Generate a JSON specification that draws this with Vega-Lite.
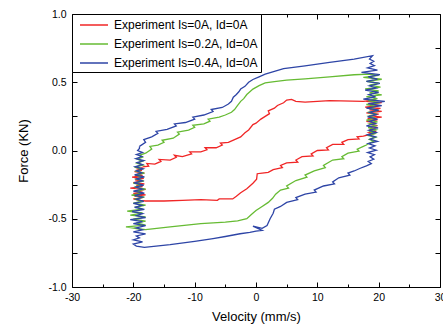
{
  "$schema": "https://vega.github.io/schema/vega-lite/v6.json",
  "width": 368,
  "height": 273,
  "autosize": {"type": "none"},
  "padding": {"left": 72, "top": 14, "right": 3, "bottom": 38},
  "background": "white",
  "config": {
    "view": {"stroke": "black", "strokeWidth": 1},
    "font": "Liberation Sans",
    "axis": {
      "grid": false,
      "domain": false,
      "tickColor": "black",
      "tickWidth": 1,
      "labelColor": "black",
      "labelFont": "Liberation Sans",
      "labelFontSize": 10.5,
      "titleFont": "Liberation Sans",
      "titleFontSize": 13,
      "titleFontWeight": "normal",
      "titleColor": "black",
      "labelOverlap": false,
      "labelFlush": false
    },
    "legend": {
      "strokeColor": "black",
      "strokeWidth": 1,
      "fillColor": "white",
      "padding": 3,
      "cornerRadius": 0,
      "labelFont": "Liberation Sans",
      "labelFontSize": 12,
      "labelColor": "black",
      "symbolType": "M-2,0H2",
      "symbolSize": 196,
      "symbolStrokeWidth": 1.5,
      "symbolOffset": 11,
      "rowPadding": 5,
      "labelOffset": 12
    }
  },
  "data": {
    "values": [
      {"s":"0A","i":1,"v":-18.5,"f":-0.12},{"s":"0A","i":2,"v":-17.5,"f":-0.115},{"s":"0A","i":3,"v":-17.8,"f":-0.095},{"s":"0A","i":4,"v":-16.5,"f":-0.1},{"s":"0A","i":5,"v":-15.5,"f":-0.08},{"s":"0A","i":6,"v":-15.8,"f":-0.065},{"s":"0A","i":7,"v":-14,"f":-0.07},{"s":"0A","i":8,"v":-13,"f":-0.05},{"s":"0A","i":9,"v":-13.3,"f":-0.035},{"s":"0A","i":10,"v":-12,"f":-0.045},
      {"s":"0A","i":11,"v":-10.5,"f":-0.025},{"s":"0A","i":12,"v":-10.8,"f":-0.01},{"s":"0A","i":13,"v":-9,"f":-0.01},{"s":"0A","i":14,"v":-8,"f":0.005},{"s":"0A","i":15,"v":-8.3,"f":0.02},{"s":"0A","i":16,"v":-6.5,"f":0.02},{"s":"0A","i":17,"v":-5.5,"f":0.04},{"s":"0A","i":18,"v":-5.8,"f":0.055},{"s":"0A","i":19,"v":-4.5,"f":0.06},{"s":"0A","i":20,"v":-3.5,"f":0.08},
      {"s":"0A","i":21,"v":-2.5,"f":0.1},{"s":"0A","i":22,"v":-1.8,"f":0.13},{"s":"0A","i":23,"v":-1.2,"f":0.15},{"s":"0A","i":24,"v":-0.5,"f":0.19},{"s":"0A","i":25,"v":0,"f":0.2},{"s":"0A","i":26,"v":0.8,"f":0.23},{"s":"0A","i":27,"v":1.5,"f":0.25},{"s":"0A","i":28,"v":2.2,"f":0.27},{"s":"0A","i":29,"v":2.0,"f":0.29},{"s":"0A","i":30,"v":3,"f":0.31},
      {"s":"0A","i":31,"v":3.5,"f":0.33},{"s":"0A","i":32,"v":4.5,"f":0.35},{"s":"0A","i":33,"v":5,"f":0.37},{"s":"0A","i":34,"v":5.8,"f":0.375},{"s":"0A","i":35,"v":6.5,"f":0.36},{"s":"0A","i":36,"v":8,"f":0.355},{"s":"0A","i":37,"v":12,"f":0.365},{"s":"0A","i":38,"v":17.5,"f":0.36},
      {"s":"0A","i":39,"v":19.5,"f":0.37},{"s":"0A","i":39.5,"v":18,"f":0.36},{"s":"0A","i":40,"v":20.5,"f":0.35},{"s":"0A","i":40.5,"v":18.5,"f":0.34},{"s":"0A","i":41,"v":20,"f":0.328},{"s":"0A","i":41.5,"v":17.8,"f":0.318},{"s":"0A","i":42,"v":20.3,"f":0.308},{"s":"0A","i":42.5,"v":18.5,"f":0.297},{"s":"0A","i":43,"v":20.5,"f":0.287},{"s":"0A","i":43.5,"v":18,"f":0.276},
      {"s":"0A","i":44,"v":20,"f":0.266},{"s":"0A","i":44.5,"v":18.5,"f":0.255},{"s":"0A","i":45,"v":20.5,"f":0.245},{"s":"0A","i":45.5,"v":18.2,"f":0.234},{"s":"0A","i":46,"v":19.8,"f":0.224},{"s":"0A","i":46.5,"v":18,"f":0.214},{"s":"0A","i":47,"v":19.5,"f":0.203},{"s":"0A","i":47.5,"v":18.5,"f":0.193},{"s":"0A","i":48,"v":19.8,"f":0.182},{"s":"0A","i":48.5,"v":18.3,"f":0.172},
      {"s":"0A","i":49,"v":19.5,"f":0.161},{"s":"0A","i":49.5,"v":18.5,"f":0.151},{"s":"0A","i":50,"v":19.6,"f":0.14},{"s":"0A","i":50.5,"v":18.4,"f":0.13},{"s":"0A","i":51,"v":19,"f":0.12},{"s":"0A","i":51.5,"v":18,"f":0.11},
      {"s":"0A","i":55,"v":17.5,"f":0.105},{"s":"0A","i":56,"v":16.5,"f":0.1},{"s":"0A","i":57,"v":16.8,"f":0.085},{"s":"0A","i":58,"v":15,"f":0.08},{"s":"0A","i":59,"v":14,"f":0.06},{"s":"0A","i":60,"v":14.3,"f":0.045},{"s":"0A","i":61,"v":12.5,"f":0.045},{"s":"0A","i":62,"v":11.5,"f":0.02},{"s":"0A","i":63,"v":11.8,"f":0.005},{"s":"0A","i":64,"v":10,"f":0.0},
      {"s":"0A","i":65,"v":9,"f":-0.025},{"s":"0A","i":66,"v":9.3,"f":-0.04},{"s":"0A","i":67,"v":7.5,"f":-0.045},{"s":"0A","i":68,"v":6.5,"f":-0.07},{"s":"0A","i":69,"v":6.8,"f":-0.085},{"s":"0A","i":70,"v":5,"f":-0.09},{"s":"0A","i":71,"v":4,"f":-0.11},{"s":"0A","i":72,"v":4.3,"f":-0.125},{"s":"0A","i":73,"v":2.8,"f":-0.14},{"s":"0A","i":74,"v":2,"f":-0.16},
      {"s":"0A","i":75,"v":1,"f":-0.165},{"s":"0A","i":76,"v":0.2,"f":-0.17},{"s":"0A","i":77,"v":0.1,"f":-0.21},{"s":"0A","i":78,"v":-0.5,"f":-0.24},{"s":"0A","i":79,"v":-1.5,"f":-0.28},{"s":"0A","i":80,"v":-2.5,"f":-0.31},{"s":"0A","i":81,"v":-3.2,"f":-0.335},{"s":"0A","i":82,"v":-3.8,"f":-0.355},{"s":"0A","i":83,"v":-6,"f":-0.355},{"s":"0A","i":84,"v":-6.3,"f":-0.365},
      {"s":"0A","i":85,"v":-9,"f":-0.36},{"s":"0A","i":86,"v":-12,"f":-0.365},{"s":"0A","i":87,"v":-15,"f":-0.37},{"s":"0A","i":88,"v":-18,"f":-0.37},
      {"s":"0A","i":89,"v":-19,"f":-0.365},{"s":"0A","i":89.5,"v":-20,"f":-0.355},{"s":"0A","i":90,"v":-18.5,"f":-0.345},{"s":"0A","i":90.5,"v":-19.8,"f":-0.335},{"s":"0A","i":91,"v":-18,"f":-0.325},{"s":"0A","i":91.5,"v":-20,"f":-0.315},{"s":"0A","i":92,"v":-18.5,"f":-0.305},{"s":"0A","i":92.5,"v":-19.5,"f":-0.295},{"s":"0A","i":93,"v":-18,"f":-0.285},{"s":"0A","i":93.5,"v":-20.5,"f":-0.275},
      {"s":"0A","i":94,"v":-18.5,"f":-0.265},{"s":"0A","i":94.5,"v":-19.5,"f":-0.255},{"s":"0A","i":95,"v":-18.2,"f":-0.245},{"s":"0A","i":95.5,"v":-20,"f":-0.235},{"s":"0A","i":96,"v":-18.6,"f":-0.225},{"s":"0A","i":96.5,"v":-19.7,"f":-0.215},{"s":"0A","i":97,"v":-18.3,"f":-0.205},{"s":"0A","i":97.5,"v":-20.2,"f":-0.195},{"s":"0A","i":98,"v":-18.5,"f":-0.185},{"s":"0A","i":98.5,"v":-19.4,"f":-0.175},
      {"s":"0A","i":99,"v":-18.2,"f":-0.165},{"s":"0A","i":99.5,"v":-19.8,"f":-0.155},{"s":"0A","i":100,"v":-18.6,"f":-0.145},{"s":"0A","i":100.5,"v":-19.3,"f":-0.135},{"s":"0A","i":101,"v":-18.5,"f":-0.125},

      {"s":"0.2A","i":1,"v":-18,"f":-0.02},{"s":"0.2A","i":2,"v":-17,"f":0.01},{"s":"0.2A","i":3,"v":-17.3,"f":0.03},{"s":"0.2A","i":4,"v":-16,"f":0.04},{"s":"0.2A","i":5,"v":-15,"f":0.06},{"s":"0.2A","i":6,"v":-15.3,"f":0.075},{"s":"0.2A","i":7,"v":-13.5,"f":0.09},{"s":"0.2A","i":8,"v":-12.5,"f":0.12},{"s":"0.2A","i":9,"v":-12.8,"f":0.135},{"s":"0.2A","i":10,"v":-11,"f":0.15},
      {"s":"0.2A","i":11,"v":-10,"f":0.17},{"s":"0.2A","i":12,"v":-10.3,"f":0.185},{"s":"0.2A","i":13,"v":-8.5,"f":0.195},{"s":"0.2A","i":14,"v":-7.5,"f":0.215},{"s":"0.2A","i":15,"v":-7.8,"f":0.23},{"s":"0.2A","i":16,"v":-6,"f":0.245},{"s":"0.2A","i":17,"v":-5,"f":0.26},{"s":"0.2A","i":18,"v":-4,"f":0.28},{"s":"0.2A","i":19,"v":-3.5,"f":0.3},{"s":"0.2A","i":20,"v":-3,"f":0.33},
      {"s":"0.2A","i":21,"v":-2.5,"f":0.36},{"s":"0.2A","i":22,"v":-2,"f":0.38},{"s":"0.2A","i":23,"v":-1.5,"f":0.41},{"s":"0.2A","i":24,"v":-1,"f":0.43},{"s":"0.2A","i":25,"v":-0.5,"f":0.45},{"s":"0.2A","i":26,"v":0.5,"f":0.475},{"s":"0.2A","i":27,"v":1.5,"f":0.495},{"s":"0.2A","i":28,"v":3,"f":0.505},{"s":"0.2A","i":29,"v":5,"f":0.515},{"s":"0.2A","i":30,"v":8,"f":0.525},
      {"s":"0.2A","i":31,"v":12,"f":0.54},{"s":"0.2A","i":32,"v":16,"f":0.555},{"s":"0.2A","i":33,"v":18.5,"f":0.56},
      {"s":"0.2A","i":34,"v":20,"f":0.55},{"s":"0.2A","i":34.5,"v":17.5,"f":0.536},{"s":"0.2A","i":35,"v":20.5,"f":0.522},{"s":"0.2A","i":35.5,"v":18,"f":0.507},{"s":"0.2A","i":36,"v":20,"f":0.493},{"s":"0.2A","i":36.5,"v":18.5,"f":0.479},{"s":"0.2A","i":37,"v":20.3,"f":0.465},{"s":"0.2A","i":37.5,"v":17.8,"f":0.451},{"s":"0.2A","i":38,"v":20,"f":0.436},{"s":"0.2A","i":38.5,"v":18.5,"f":0.422},
      {"s":"0.2A","i":39,"v":20.5,"f":0.408},{"s":"0.2A","i":39.5,"v":18,"f":0.394},{"s":"0.2A","i":40,"v":19.8,"f":0.38},{"s":"0.2A","i":40.5,"v":18.3,"f":0.365},{"s":"0.2A","i":41,"v":20.2,"f":0.351},{"s":"0.2A","i":41.5,"v":18,"f":0.337},{"s":"0.2A","i":42,"v":19.6,"f":0.323},{"s":"0.2A","i":42.5,"v":18.5,"f":0.309},{"s":"0.2A","i":43,"v":20,"f":0.294},{"s":"0.2A","i":43.5,"v":18.2,"f":0.28},
      {"s":"0.2A","i":44,"v":19.7,"f":0.266},{"s":"0.2A","i":44.5,"v":18.4,"f":0.252},{"s":"0.2A","i":45,"v":19.5,"f":0.238},{"s":"0.2A","i":45.5,"v":18,"f":0.223},{"s":"0.2A","i":46,"v":19.8,"f":0.209},{"s":"0.2A","i":46.5,"v":18.5,"f":0.195},{"s":"0.2A","i":47,"v":19.5,"f":0.181},{"s":"0.2A","i":47.5,"v":18.3,"f":0.167},{"s":"0.2A","i":48,"v":19.6,"f":0.152},{"s":"0.2A","i":48.5,"v":18.6,"f":0.138},
      {"s":"0.2A","i":49,"v":19.4,"f":0.124},{"s":"0.2A","i":49.5,"v":18.2,"f":0.11},{"s":"0.2A","i":50,"v":19.5,"f":0.096},{"s":"0.2A","i":50.5,"v":18.5,"f":0.081},{"s":"0.2A","i":51,"v":19.2,"f":0.067},{"s":"0.2A","i":51.5,"v":18.4,"f":0.053},{"s":"0.2A","i":52,"v":18,"f":0.04},
      {"s":"0.2A","i":53,"v":17.5,"f":0.03},{"s":"0.2A","i":54,"v":16.5,"f":0.01},{"s":"0.2A","i":55,"v":16.8,"f":-0.005},{"s":"0.2A","i":56,"v":15,"f":-0.02},{"s":"0.2A","i":57,"v":14,"f":-0.045},{"s":"0.2A","i":58,"v":14.3,"f":-0.06},{"s":"0.2A","i":59,"v":12.5,"f":-0.07},{"s":"0.2A","i":60,"v":11,"f":-0.11},{"s":"0.2A","i":61,"v":11.3,"f":-0.125},{"s":"0.2A","i":62,"v":9.5,"f":-0.15},
      {"s":"0.2A","i":63,"v":8,"f":-0.18},{"s":"0.2A","i":64,"v":8.3,"f":-0.195},{"s":"0.2A","i":65,"v":6.5,"f":-0.22},{"s":"0.2A","i":66,"v":5,"f":-0.26},{"s":"0.2A","i":67,"v":5.3,"f":-0.275},{"s":"0.2A","i":68,"v":4,"f":-0.29},{"s":"0.2A","i":69,"v":3.2,"f":-0.32},{"s":"0.2A","i":70,"v":2.7,"f":-0.35},{"s":"0.2A","i":71,"v":2,"f":-0.38},{"s":"0.2A","i":72,"v":1,"f":-0.41},
      {"s":"0.2A","i":73,"v":0,"f":-0.44},{"s":"0.2A","i":74,"v":-0.8,"f":-0.47},{"s":"0.2A","i":75,"v":-1.5,"f":-0.5},{"s":"0.2A","i":76,"v":-3,"f":-0.515},{"s":"0.2A","i":77,"v":-5,"f":-0.525},{"s":"0.2A","i":78,"v":-9,"f":-0.535},{"s":"0.2A","i":79,"v":-14,"f":-0.56},{"s":"0.2A","i":80,"v":-18,"f":-0.58},
      {"s":"0.2A","i":81,"v":-19,"f":-0.575},{"s":"0.2A","i":81.5,"v":-21.2,"f":-0.56},{"s":"0.2A","i":82,"v":-18,"f":-0.546},{"s":"0.2A","i":82.5,"v":-19.5,"f":-0.531},{"s":"0.2A","i":83,"v":-18,"f":-0.517},{"s":"0.2A","i":83.5,"v":-20,"f":-0.502},{"s":"0.2A","i":84,"v":-18,"f":-0.487},{"s":"0.2A","i":84.5,"v":-20.5,"f":-0.473},{"s":"0.2A","i":85,"v":-18.5,"f":-0.458},{"s":"0.2A","i":85.5,"v":-21,"f":-0.444},
      {"s":"0.2A","i":86,"v":-18.5,"f":-0.429},{"s":"0.2A","i":86.5,"v":-19.5,"f":-0.414},{"s":"0.2A","i":87,"v":-18,"f":-0.4},{"s":"0.2A","i":87.5,"v":-20,"f":-0.385},{"s":"0.2A","i":88,"v":-18.5,"f":-0.371},{"s":"0.2A","i":88.5,"v":-19.8,"f":-0.356},{"s":"0.2A","i":89,"v":-18.2,"f":-0.341},{"s":"0.2A","i":89.5,"v":-20.3,"f":-0.327},{"s":"0.2A","i":90,"v":-18.5,"f":-0.312},{"s":"0.2A","i":90.5,"v":-19.5,"f":-0.298},
      {"s":"0.2A","i":91,"v":-18,"f":-0.283},{"s":"0.2A","i":91.5,"v":-19.8,"f":-0.268},{"s":"0.2A","i":92,"v":-18.6,"f":-0.254},{"s":"0.2A","i":92.5,"v":-20,"f":-0.239},{"s":"0.2A","i":93,"v":-18.3,"f":-0.225},{"s":"0.2A","i":93.5,"v":-19.5,"f":-0.21},{"s":"0.2A","i":94,"v":-18.5,"f":-0.195},{"s":"0.2A","i":94.5,"v":-19.7,"f":-0.181},{"s":"0.2A","i":95,"v":-18.2,"f":-0.166},{"s":"0.2A","i":95.5,"v":-19.5,"f":-0.152},
      {"s":"0.2A","i":96,"v":-18.6,"f":-0.137},{"s":"0.2A","i":96.5,"v":-19.8,"f":-0.122},{"s":"0.2A","i":97,"v":-18.4,"f":-0.108},{"s":"0.2A","i":97.5,"v":-19.4,"f":-0.093},{"s":"0.2A","i":98,"v":-18.5,"f":-0.079},{"s":"0.2A","i":98.5,"v":-19.3,"f":-0.064},{"s":"0.2A","i":99,"v":-18.5,"f":-0.049},{"s":"0.2A","i":99.5,"v":-19,"f":-0.035},{"s":"0.2A","i":100,"v":-18,"f":-0.02},

      {"s":"0.4A","i":1,"v":-19,"f":0.03},{"s":"0.4A","i":2,"v":-18,"f":0.06},{"s":"0.4A","i":3,"v":-18.3,"f":0.08},{"s":"0.4A","i":4,"v":-17,"f":0.1},{"s":"0.4A","i":5,"v":-16,"f":0.125},{"s":"0.4A","i":6,"v":-16.3,"f":0.14},{"s":"0.4A","i":7,"v":-14.5,"f":0.155},{"s":"0.4A","i":8,"v":-13,"f":0.18},{"s":"0.4A","i":9,"v":-13.3,"f":0.195},{"s":"0.4A","i":10,"v":-11.5,"f":0.205},
      {"s":"0.4A","i":11,"v":-10,"f":0.23},{"s":"0.4A","i":12,"v":-10.3,"f":0.245},{"s":"0.4A","i":13,"v":-8.5,"f":0.26},{"s":"0.4A","i":14,"v":-7,"f":0.285},{"s":"0.4A","i":15,"v":-7.3,"f":0.3},{"s":"0.4A","i":16,"v":-5.5,"f":0.315},{"s":"0.4A","i":17,"v":-4.5,"f":0.34},{"s":"0.4A","i":18,"v":-4,"f":0.36},{"s":"0.4A","i":19,"v":-3.7,"f":0.39},{"s":"0.4A","i":20,"v":-3.2,"f":0.41},
      {"s":"0.4A","i":21,"v":-2.8,"f":0.43},{"s":"0.4A","i":22,"v":-2.5,"f":0.45},{"s":"0.4A","i":23,"v":-1.8,"f":0.47},{"s":"0.4A","i":24,"v":-1.2,"f":0.5},{"s":"0.4A","i":25,"v":-0.5,"f":0.52},{"s":"0.4A","i":26,"v":0.5,"f":0.54},{"s":"0.4A","i":27,"v":1.5,"f":0.56},{"s":"0.4A","i":28,"v":3,"f":0.58},{"s":"0.4A","i":29,"v":4.5,"f":0.6},{"s":"0.4A","i":30,"v":8,"f":0.62},
      {"s":"0.4A","i":31,"v":12,"f":0.645},{"s":"0.4A","i":32,"v":16,"f":0.67},{"s":"0.4A","i":33,"v":19,"f":0.695},
      {"s":"0.4A","i":34,"v":18.5,"f":0.67},{"s":"0.4A","i":34.5,"v":19.2,"f":0.654},{"s":"0.4A","i":35,"v":18.6,"f":0.637},{"s":"0.4A","i":35.5,"v":19.3,"f":0.621},{"s":"0.4A","i":36,"v":18.2,"f":0.605},{"s":"0.4A","i":36.5,"v":19.8,"f":0.589},{"s":"0.4A","i":37,"v":17.2,"f":0.572},{"s":"0.4A","i":37.5,"v":20.2,"f":0.556},{"s":"0.4A","i":38,"v":18.3,"f":0.54},{"s":"0.4A","i":38.5,"v":19.8,"f":0.523},
      {"s":"0.4A","i":39,"v":18,"f":0.507},{"s":"0.4A","i":39.5,"v":20.2,"f":0.491},{"s":"0.4A","i":40,"v":18.5,"f":0.474},{"s":"0.4A","i":40.5,"v":19.6,"f":0.458},{"s":"0.4A","i":41,"v":17.8,"f":0.442},{"s":"0.4A","i":41.5,"v":20,"f":0.426},{"s":"0.4A","i":42,"v":18.4,"f":0.409},{"s":"0.4A","i":42.5,"v":19.5,"f":0.393},{"s":"0.4A","i":43,"v":17.5,"f":0.377},{"s":"0.4A","i":43.5,"v":21,"f":0.36},
      {"s":"0.4A","i":44,"v":18.3,"f":0.344},{"s":"0.4A","i":44.5,"v":20.5,"f":0.328},{"s":"0.4A","i":45,"v":18,"f":0.311},{"s":"0.4A","i":45.5,"v":20,"f":0.295},{"s":"0.4A","i":46,"v":18.5,"f":0.279},{"s":"0.4A","i":46.5,"v":19.6,"f":0.263},{"s":"0.4A","i":47,"v":18.2,"f":0.246},{"s":"0.4A","i":47.5,"v":19.8,"f":0.23},{"s":"0.4A","i":48,"v":18.5,"f":0.214},{"s":"0.4A","i":48.5,"v":19.5,"f":0.197},
      {"s":"0.4A","i":49,"v":18,"f":0.181},{"s":"0.4A","i":49.5,"v":19.9,"f":0.165},{"s":"0.4A","i":50,"v":18.4,"f":0.148},{"s":"0.4A","i":50.5,"v":19.6,"f":0.132},{"s":"0.4A","i":51,"v":18.2,"f":0.116},{"s":"0.4A","i":51.5,"v":19.5,"f":0.1},{"s":"0.4A","i":52,"v":18.6,"f":0.083},{"s":"0.4A","i":52.5,"v":19.8,"f":0.067},{"s":"0.4A","i":53,"v":18.3,"f":0.051},{"s":"0.4A","i":53.5,"v":19.4,"f":0.034},
      {"s":"0.4A","i":54,"v":18.5,"f":0.018},{"s":"0.4A","i":54.5,"v":19.6,"f":0.002},{"s":"0.4A","i":55,"v":18.2,"f":-0.015},{"s":"0.4A","i":55.5,"v":19.3,"f":-0.031},{"s":"0.4A","i":56,"v":18.6,"f":-0.047},{"s":"0.4A","i":56.5,"v":19.2,"f":-0.064},{"s":"0.4A","i":57,"v":18.3,"f":-0.08},{"s":"0.4A","i":57.5,"v":18.8,"f":-0.096},{"s":"0.4A","i":58,"v":18,"f":-0.112},{"s":"0.4A","i":58.5,"v":17,"f":-0.13},
      {"s":"0.4A","i":64,"v":16,"f":-0.15},{"s":"0.4A","i":65,"v":15,"f":-0.165},{"s":"0.4A","i":66,"v":15.3,"f":-0.18},{"s":"0.4A","i":67,"v":13.5,"f":-0.2},{"s":"0.4A","i":68,"v":12.5,"f":-0.23},{"s":"0.4A","i":69,"v":12.8,"f":-0.245},{"s":"0.4A","i":70,"v":11,"f":-0.26},{"s":"0.4A","i":71,"v":9.5,"f":-0.29},{"s":"0.4A","i":72,"v":9.8,"f":-0.305},{"s":"0.4A","i":73,"v":8,"f":-0.32},
      {"s":"0.4A","i":74,"v":6.5,"f":-0.345},{"s":"0.4A","i":75,"v":6.8,"f":-0.36},{"s":"0.4A","i":76,"v":5,"f":-0.38},{"s":"0.4A","i":77,"v":4,"f":-0.41},{"s":"0.4A","i":78,"v":3,"f":-0.43},{"s":"0.4A","i":79,"v":2.8,"f":-0.46},{"s":"0.4A","i":80,"v":2.3,"f":-0.5},{"s":"0.4A","i":81,"v":1.8,"f":-0.55},{"s":"0.4A","i":82,"v":1,"f":-0.57},{"s":"0.4A","i":83,"v":-0.5,"f":-0.555},
      {"s":"0.4A","i":84,"v":1,"f":-0.585},{"s":"0.4A","i":85,"v":0,"f":-0.59},{"s":"0.4A","i":86,"v":-1,"f":-0.6},{"s":"0.4A","i":87,"v":-2.6,"f":-0.61},{"s":"0.4A","i":88,"v":-5,"f":-0.63},{"s":"0.4A","i":89,"v":-7,"f":-0.645},{"s":"0.4A","i":90,"v":-10,"f":-0.665},{"s":"0.4A","i":91,"v":-14,"f":-0.69},{"s":"0.4A","i":92,"v":-18.2,"f":-0.71},
      {"s":"0.4A","i":93,"v":-19.5,"f":-0.7},{"s":"0.4A","i":93.5,"v":-20,"f":-0.685},{"s":"0.4A","i":94,"v":-18.5,"f":-0.67},{"s":"0.4A","i":94.5,"v":-20,"f":-0.655},{"s":"0.4A","i":95,"v":-19,"f":-0.64},{"s":"0.4A","i":95.5,"v":-19.5,"f":-0.626},{"s":"0.4A","i":96,"v":-18,"f":-0.611},{"s":"0.4A","i":96.5,"v":-20,"f":-0.596},{"s":"0.4A","i":97,"v":-18.5,"f":-0.581},{"s":"0.4A","i":97.5,"v":-19.5,"f":-0.566},
      {"s":"0.4A","i":98,"v":-18,"f":-0.551},{"s":"0.4A","i":98.5,"v":-20,"f":-0.536},{"s":"0.4A","i":99,"v":-18.5,"f":-0.521},{"s":"0.4A","i":99.5,"v":-20.5,"f":-0.506},{"s":"0.4A","i":100,"v":-18,"f":-0.491},{"s":"0.4A","i":100.5,"v":-19.5,"f":-0.477},{"s":"0.4A","i":101,"v":-18.5,"f":-0.462},{"s":"0.4A","i":101.5,"v":-20.2,"f":-0.447},{"s":"0.4A","i":102,"v":-18.2,"f":-0.432},{"s":"0.4A","i":102.5,"v":-19.8,"f":-0.417},
      {"s":"0.4A","i":103,"v":-18.6,"f":-0.402},{"s":"0.4A","i":103.5,"v":-20,"f":-0.387},{"s":"0.4A","i":104,"v":-18.3,"f":-0.372},{"s":"0.4A","i":104.5,"v":-19.5,"f":-0.357},{"s":"0.4A","i":105,"v":-18.5,"f":-0.342},{"s":"0.4A","i":105.5,"v":-19.8,"f":-0.328},{"s":"0.4A","i":106,"v":-18.2,"f":-0.313},{"s":"0.4A","i":106.5,"v":-20,"f":-0.298},{"s":"0.4A","i":107,"v":-18.5,"f":-0.283},{"s":"0.4A","i":107.5,"v":-19.6,"f":-0.268},
      {"s":"0.4A","i":108,"v":-18.3,"f":-0.253},{"s":"0.4A","i":108.5,"v":-19.9,"f":-0.238},{"s":"0.4A","i":109,"v":-18.5,"f":-0.223},{"s":"0.4A","i":109.5,"v":-19.5,"f":-0.208},{"s":"0.4A","i":110,"v":-18.2,"f":-0.193},{"s":"0.4A","i":110.5,"v":-19.8,"f":-0.179},{"s":"0.4A","i":111,"v":-18.6,"f":-0.164},{"s":"0.4A","i":111.5,"v":-19.5,"f":-0.149},{"s":"0.4A","i":112,"v":-18.4,"f":-0.134},{"s":"0.4A","i":112.5,"v":-19.7,"f":-0.119},
      {"s":"0.4A","i":113,"v":-18.5,"f":-0.104},{"s":"0.4A","i":113.5,"v":-19.4,"f":-0.089},{"s":"0.4A","i":114,"v":-18.3,"f":-0.074},{"s":"0.4A","i":114.5,"v":-19.6,"f":-0.059},{"s":"0.4A","i":115,"v":-18.6,"f":-0.044},{"s":"0.4A","i":115.5,"v":-19.5,"f":-0.03},{"s":"0.4A","i":116,"v":-18.5,"f":-0.015},{"s":"0.4A","i":116.5,"v":-19.3,"f":0.0},{"s":"0.4A","i":117,"v":-19,"f":0.015},{"s":"0.4A","i":117.5,"v":-19,"f":0.03}
    ]
  },
  "layer": [
    {
      "mark": {"type": "line", "strokeWidth": 1.3, "clip": true},
      "encoding": {
        "x": {
          "field": "v", "type": "quantitative",
          "scale": {"domain": [-30, 30], "nice": false, "zero": false},
          "axis": {
            "orient": "bottom",
            "offset": -5,
            "title": "Velocity (mm/s)",
            "values": [-30, -20, -10, 0, 10, 20, 30],
            "labelExpr": "replace(format(datum.value, 'd'), '\u2212', '-')",
            "tickSize": 5,
            "labelPadding": 5,
            "titlePadding": 8
          }
        },
        "y": {
          "field": "f", "type": "quantitative",
          "scale": {"domain": [-1, 1], "nice": false, "zero": false},
          "axis": {
            "orient": "left",
            "offset": -5,
            "title": "Force (KN)",
            "values": [-1, -0.75, -0.5, -0.25, 0, 0.25, 0.5, 0.75, 1],
            "labelExpr": "abs(datum.value * 2 - round(datum.value * 2)) < 0.001 ? replace(format(datum.value, '.1f'), '\u2212', '-') : ''",
            "tickSize": 5,
            "labelPadding": 6,
            "titlePadding": 17
          }
        },
        "color": {
          "field": "s", "type": "nominal",
          "scale": {"domain": ["0A", "0.2A", "0.4A"], "range": ["#f02626", "#66bb33", "#2e45a6"]},
          "legend": {
            "title": null,
            "orient": "none",
            "legendX": 0,
            "legendY": 0,
            "labelExpr": "'Experiment Is=' + datum.label + ', Id=0A'"
          }
        },
        "order": {"field": "i", "type": "quantitative"}
      }
    },
    {
      "mark": {"type": "point", "opacity": 0},
      "encoding": {
        "x": {
          "field": "v", "type": "quantitative",
          "scale": {"domain": [-30, 30], "nice": false, "zero": false},
          "axis": {"orient": "top", "offset": -5, "title": null, "labels": false, "values": [-30, -20, -10, 0, 10, 20, 30], "tickSize": 5}
        },
        "y": {
          "field": "f", "type": "quantitative",
          "scale": {"domain": [-1, 1], "nice": false, "zero": false},
          "axis": {"orient": "right", "offset": -5, "title": null, "labels": false, "values": [-1, -0.75, -0.5, -0.25, 0, 0.25, 0.5, 0.75, 1], "tickSize": 5}
        }
      }
    },
    {
      "mark": {"type": "point", "opacity": 0},
      "encoding": {
        "x": {
          "field": "v", "type": "quantitative",
          "scale": {"domain": [-30, 30], "nice": false, "zero": false},
          "axis": {"orient": "bottom", "offset": -3, "title": null, "labels": false, "values": [-25, -15, -5, 5, 15, 25], "tickSize": 3}
        },
        "y": {
          "field": "f", "type": "quantitative",
          "scale": {"domain": [-1, 1], "nice": false, "zero": false},
          "axis": null
        }
      }
    },
    {
      "mark": {"type": "point", "opacity": 0},
      "encoding": {
        "x": {
          "field": "v", "type": "quantitative",
          "scale": {"domain": [-30, 30], "nice": false, "zero": false},
          "axis": {"orient": "top", "offset": -3, "title": null, "labels": false, "values": [-25, -15, -5, 5, 15, 25], "tickSize": 3}
        },
        "y": {
          "field": "f", "type": "quantitative",
          "scale": {"domain": [-1, 1], "nice": false, "zero": false},
          "axis": null
        }
      }
    }
  ],
  "resolve": {"axis": {"x": "independent", "y": "independent"}}
}
